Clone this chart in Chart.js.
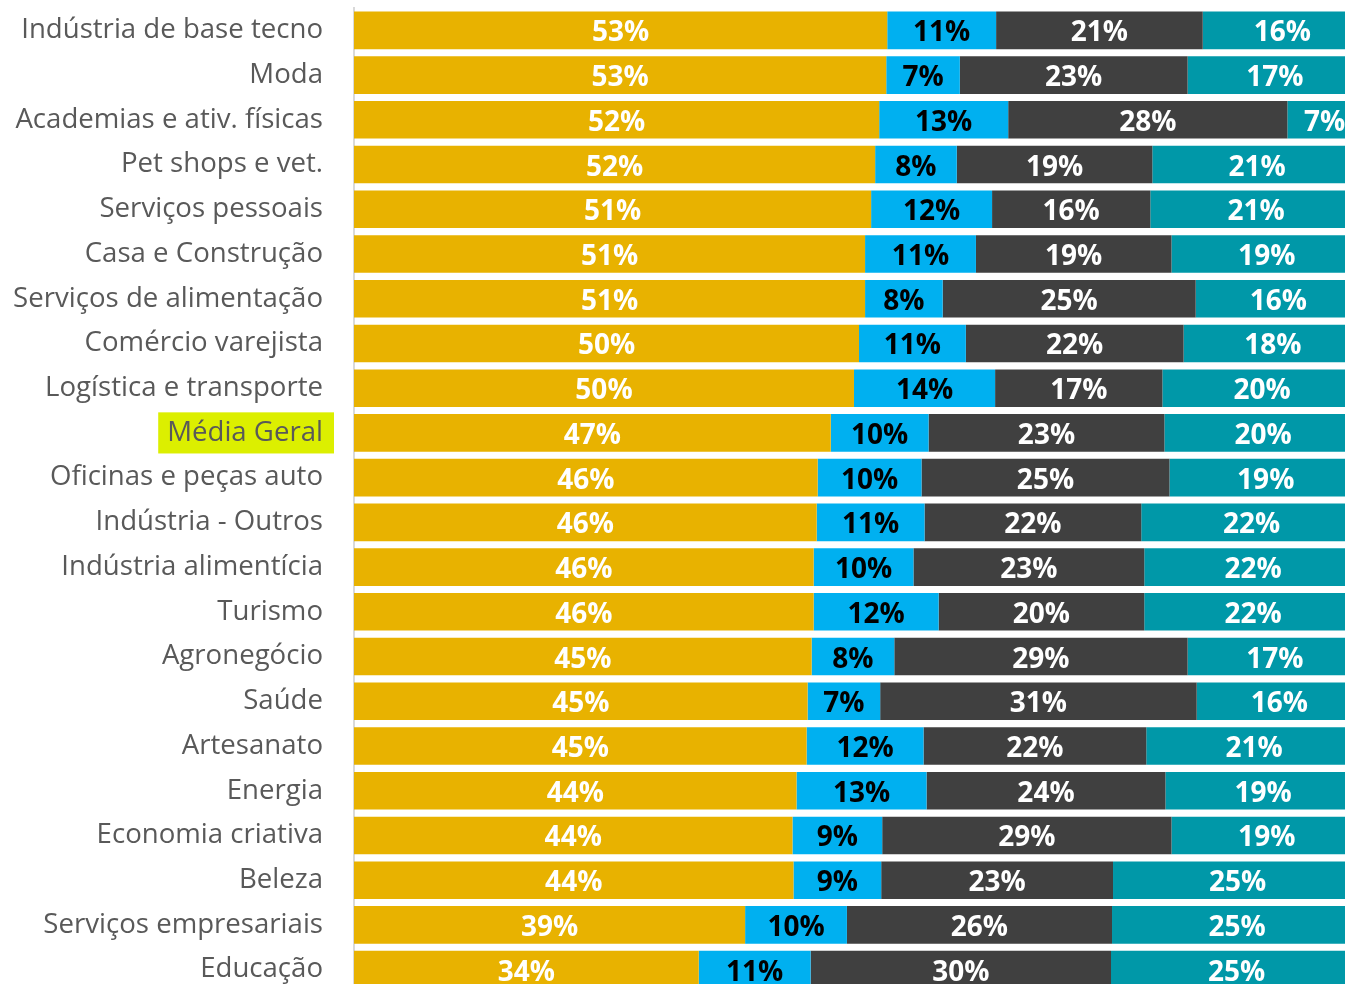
<!DOCTYPE html>
<html>
<head>
<meta charset="utf-8">
<script src="https://cdn.jsdelivr.net/npm/chart.js@4"></script>
<style>
  html, body { margin: 0; padding: 0; background: #ffffff; overflow: hidden; }
  #wrap { width: 1362px; height: 1000px; }
</style>
</head>
<body>
<div id="wrap"><canvas id="c" width="1362" height="1000"></canvas></div>
<script>
const categories = [
  'Indústria de base tecno', 'Moda', 'Academias e ativ. físicas', 'Pet shops e vet.',
  'Serviços pessoais', 'Casa e Construção', 'Serviços de alimentação', 'Comércio varejista',
  'Logística e transporte', 'Média Geral', 'Oficinas e peças auto', 'Indústria - Outros',
  'Indústria alimentícia', 'Turismo', 'Agronegócio', 'Saúde', 'Artesanato', 'Energia',
  'Economia criativa', 'Beleza', 'Serviços empresariais', 'Educação'
];
const seriesA = [52.9, 52.8, 52.1, 51.7, 51.3, 50.7, 50.7, 50.1, 49.6, 47.3, 46.0, 45.9, 45.6, 45.6, 45.4, 45.0, 44.9, 43.9, 43.5, 43.6, 38.8, 34.2];
const seriesB = [10.8, 7.3, 12.8, 8.1, 12.0, 11.0, 7.7, 10.6, 14.0, 9.7, 10.3, 10.7, 9.9, 12.4, 8.2, 7.2, 11.6, 12.9, 8.9, 8.7, 10.1, 11.1];
const seriesC = [20.5, 22.6, 27.7, 19.4, 15.7, 19.4, 25.1, 21.6, 16.6, 23.4, 24.6, 21.5, 22.9, 20.4, 29.1, 31.4, 22.1, 23.7, 28.7, 23.0, 26.3, 29.8];
const seriesD = [15.8, 17.3, 7.4, 20.8, 21.0, 18.9, 16.4, 17.7, 19.8, 19.6, 19.1, 21.9, 21.6, 21.6, 17.3, 16.4, 21.4, 19.4, 18.9, 24.7, 24.8, 24.9];
const highlightCategory = 'Média Geral';

const barColors = ['#E8B200', '#00B0F0', '#404040', '#0098A8'];
const labelColors = ['#FFFFFF', '#000000', '#FFFFFF', '#FFFFFF'];
const FONT = '"Open Sans", "Noto Sans", sans-serif';

const valueLabels = {
  id: 'valueLabels',
  afterDatasetsDraw(chart) {
    const ctx = chart.ctx;
    chart.data.datasets.forEach((ds, di) => {
      const meta = chart.getDatasetMeta(di);
      meta.data.forEach((bar, i) => {
        const p = bar.getProps(['x', 'base', 'y'], true);
        const cx = (p.x + p.base) / 2;
        ctx.save();
        ctx.font = 'bold 28px ' + FONT;
        ctx.fillStyle = labelColors[di];
        ctx.textAlign = 'center';
        ctx.textBaseline = 'middle';
        ctx.fillText(Math.round(ds.data[i]) + '%', cx, p.y + 3);
        ctx.restore();
      });
    });
  }
};

function build() {
  const mk = (data, i) => ({
    data: data,
    backgroundColor: barColors[i],
    borderWidth: 0,
    barPercentage: 0.84,
    categoryPercentage: 1.0
  });
  new Chart(document.getElementById('c'), {
    type: 'bar',
    data: {
      labels: categories,
      datasets: [mk(seriesA, 0), mk(seriesB, 1), mk(seriesC, 2), mk(seriesD, 3)]
    },
    options: {
      indexAxis: 'y',
      responsive: false,
      animation: false,
      devicePixelRatio: 1,
      layout: { padding: { top: 8, bottom: 8, left: 0, right: 0 } },
      plugins: { legend: { display: false }, tooltip: { enabled: false } },
      scales: {
        x: { stacked: true, min: 0, max: 100, display: false },
        y: {
          stacked: true,
          afterFit(scale) {
            scale.width = 354;
            scale.paddingTop = 0;
            scale.paddingBottom = 0;
          },
          grid: { display: false, drawTicks: false },
          border: { display: true, color: '#D9D9D9', width: 2 },
          ticks: {
            padding: 31,
            color: '#595959',
            font: { family: FONT, size: 27.6 },
            showLabelBackdrop: (c) => categories[c.index] === highlightCategory,
            backdropColor: '#DCEF00',
            backdropPadding: { left: 9, right: 11, top: 4, bottom: 4 }
          }
        }
      }
    },
    plugins: [valueLabels]
  });
}

Promise.all([
  document.fonts.load('27px "Open Sans"'),
  document.fonts.load('bold 28px "Open Sans"')
]).then(build, build);
</script>
</body>
</html>
